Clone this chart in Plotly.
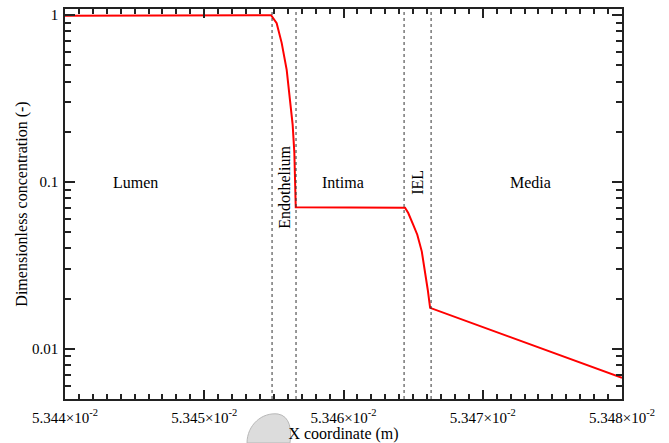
import math
import plotly.graph_objects as go

# ---- data (x in metres, y dimensionless concentration) ----
x_vals = [5.3440e-2, 5.3448e-2, 5.34548e-2,
          5.345520e-2, 5.345556e-2, 5.345592e-2, 5.345616e-2, 5.345635e-2, 5.345647e-2, 5.345657e-2,
          5.346442e-2,
          5.346465e-2, 5.346501e-2, 5.346530e-2, 5.346562e-2, 5.346585e-2, 5.346605e-2, 5.346622e-2,
          5.348e-2]
y_vals = [0.993, 0.997, 1.0,
          0.895, 0.683, 0.47, 0.311, 0.22, 0.15, 0.0705,
          0.0702,
          0.0652, 0.0554, 0.0483, 0.0384, 0.0298, 0.0226, 0.0176,
          0.0067]

boundaries = [5.345487e-2, 5.345659e-2, 5.346435e-2, 5.346629e-2]

region_names = ["Lumen", "Endothelium", "Intima", "IEL", "Media"]
region_x = [5.344503e-2, 5.34558e-2, 5.345996e-2, 5.346535e-2, 5.347346e-2]
region_y = [0.099, 0.0924, 0.099, 0.099, 0.099]
region_angle = [0, -90, 0, -90, 0]

xtick_vals = [5.344e-2, 5.345e-2, 5.346e-2, 5.347e-2, 5.348e-2]
xtick_text = ["5.344×10<sup>-2</sup>", "5.345×10<sup>-2</sup>", "5.346×10<sup>-2</sup>",
              "5.347×10<sup>-2</sup>", "5.348×10<sup>-2</sup>"]
ytick_vals = [0.01, 0.1, 1]
ytick_text = ["0.01", "0.1", "1"]

x_minor = [5.344e-2 + i * 1e-6 for i in range(41)]
y_minor = [m * 10 ** e for e in (-3, -2, -1, 0) for m in range(1, 10)]

FONT = "Liberation Serif"
XR = [5.344e-2, 5.348e-2]
YR = [math.log10(0.005), math.log10(1.09)]
AXC = "#222222"

fig = go.Figure()
fig.add_trace(go.Scatter(x=x_vals, y=y_vals, mode="lines",
                         line=dict(color="#ff0000", width=2), showlegend=False,
                         hoverinfo="skip"))
# invisible trace to create the minor-tick overlay subplot
fig.add_trace(go.Scatter(x=x_vals, y=y_vals, mode="lines", xaxis="x2", yaxis="y2",
                         line=dict(color="rgba(0,0,0,0)", width=0), showlegend=False,
                         hoverinfo="skip"))

for b in boundaries:
    fig.add_shape(type="line", x0=b, x1=b, xref="x", y0=0, y1=1, yref="paper",
                  opacity=1, line=dict(color="#333333", width=1, dash="dot"))

for name, xx, yy, ang in zip(region_names, region_x, region_y, region_angle):
    fig.add_annotation(x=xx, y=math.log10(yy), xref="x", yref="y", text=name,
                       showarrow=False, textangle=ang,
                       font=dict(family=FONT, size=16, color="black"))

# decorative grey artifact near the x title
fig.add_shape(type="path", xref="paper", yref="paper", opacity=1,
              path="M 0.3268,-0.1128 C 0.3268,-0.0667 0.3537,-0.0333 0.3824,-0.0385 "
                   "C 0.4039,-0.0436 0.4075,-0.0795 0.4039,-0.1128 Z",
              fillcolor="#dcdcdc", line=dict(color="#b8b8b8", width=1))

fig.update_layout(
    template="simple_white",
    width=669, height=443,
    margin=dict(l=65, r=47, t=9, b=44, autoexpand=False),
    paper_bgcolor="white", plot_bgcolor="white",
    font=dict(family=FONT, size=15, color="black"),
    xaxis=dict(range=XR, showgrid=False, zeroline=False, automargin=False,
               showline=True, linecolor=AXC, linewidth=1.5, mirror="ticks",
               ticks="inside", ticklen=9, tickwidth=1.5, tickcolor=AXC,
               tickmode="array", tickvals=xtick_vals, ticktext=xtick_text,
               tickfont=dict(family=FONT, size=15), ticklabelstandoff=4,
               title=dict(text="X coordinate (m)", font=dict(family=FONT, size=16),
                          standoff=5)),
    yaxis=dict(type="log", range=YR, showgrid=False, zeroline=False, automargin=False,
               showline=True, linecolor=AXC, linewidth=1.5, mirror="ticks",
               ticks="inside", ticklen=10, tickwidth=1.5, tickcolor=AXC,
               tickmode="array", tickvals=ytick_vals, ticktext=ytick_text,
               tickfont=dict(family=FONT, size=15), ticklabelstandoff=2,
               title=dict(text="Dimensionless concentration (-)",
                          font=dict(family=FONT, size=16), standoff=0)),
    xaxis2=dict(range=XR, overlaying="x", anchor="y2", side="bottom", automargin=False,
                showgrid=False, zeroline=False, showline=True, linecolor=AXC,
                linewidth=1.5, mirror="ticks",
                ticks="inside", ticklen=5, tickwidth=1.5, tickcolor=AXC,
                tickmode="array", tickvals=x_minor, showticklabels=False),
    yaxis2=dict(type="log", range=YR, overlaying="y", anchor="x2", side="left",
                automargin=False,
                showgrid=False, zeroline=False, showline=True, linecolor=AXC,
                linewidth=1.5, mirror="ticks",
                ticks="inside", ticklen=6, tickwidth=1.5, tickcolor=AXC,
                tickmode="array", tickvals=y_minor, showticklabels=False),
)

fig.write_html("out.html")
